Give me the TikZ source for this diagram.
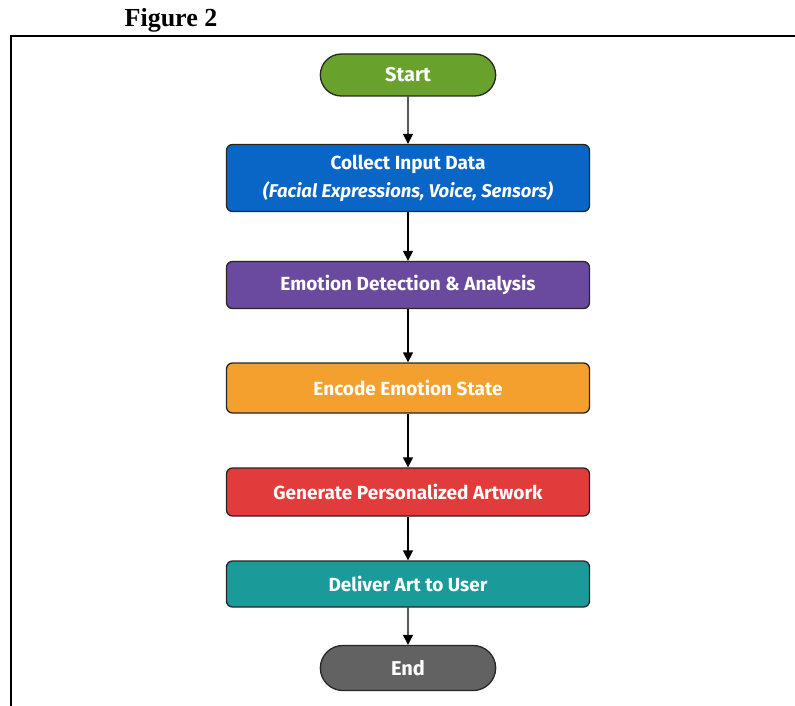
\documentclass[tikz,border=0pt]{standalone}
\usepackage{fontspec}
\setmainfont{Liberation Serif}
\newfontfamily\flowfont{Fira Sans}
\usepackage{xcolor}
\usetikzlibrary{arrows.meta,shapes.misc}

\definecolor{startgreen}{HTML}{68A22C}
\definecolor{collectblue}{HTML}{0A66C6}
\definecolor{detectpurple}{HTML}{6A4A9E}
\definecolor{encodeorange}{HTML}{F3A02E}
\definecolor{generatered}{HTML}{E23B3B}
\definecolor{delivercyan}{HTML}{1B9A9A}
\definecolor{endgray}{HTML}{626262}

\begin{document}
\begin{tikzpicture}[x=1pt,y=-1pt,
        stepbox/.style={draw=black!85,line width=1.3pt,rounded corners=6pt,
            minimum width=363pt,text=white,align=center,
            font=\flowfont\bfseries\fontsize{19}{23}\selectfont},
        terminal/.style={draw=black!85,line width=1.3pt,rounded rectangle,
            minimum width=182pt,minimum height=42pt,text=white,
            font=\flowfont\bfseries\fontsize{20}{24}\selectfont},
        flow/.style={-{Triangle[width=10pt,length=10pt]},line width=1.4pt}]
    \useasboundingbox (0,0) rectangle (795,706);
    % title and frame
    \node[font=\bfseries\fontsize{26}{30}\selectfont] (title) at (171,20) {Figure 2};
    \draw[line width=2pt] (11,710) -- (11,36) -- (799,36);
    % flow chart
    \node[terminal,fill=startgreen] (start) at (408,75) {Start};
    \node[stepbox,fill=collectblue,minimum height=67pt] (collect) at (408,178)
        {Collect Input Data\\[5pt]{\itshape\fontsize{18.5}{22}\selectfont (Facial Expressions, Voice, Sensors)}};
    \node[stepbox,fill=detectpurple,minimum height=47pt] (detect) at (408,285) {Emotion Detection \& Analysis};
    \node[stepbox,fill=encodeorange,minimum height=50pt] (encode) at (408,388) {Encode Emotion State};
    \node[stepbox,fill=generatered,minimum height=48pt] (generate) at (408,492) {Generate Personalized Artwork};
    \node[stepbox,fill=delivercyan,minimum height=46pt] (deliver) at (408,584) {Deliver Art to User};
    \node[terminal,fill=endgray,minimum height=45pt] (end) at (408,668) {End};
    \foreach \a/\b in {start/collect,collect/detect,detect/encode,encode/generate,generate/deliver,deliver/end}
        \draw[flow] (\a) -- (\b);
\end{tikzpicture}
\end{document}
